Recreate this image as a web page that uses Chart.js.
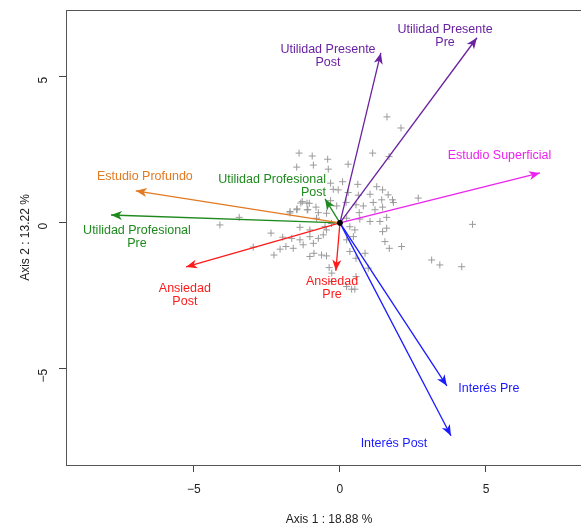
<!DOCTYPE html>
<html>
<head>
<meta charset="utf-8">
<script src="https://cdn.jsdelivr.net/npm/chart.js@4.4.0/dist/chart.umd.min.js"></script>
<style>
html, body { margin: 0; padding: 0; overflow: hidden; background: #fff; }
</style>
</head>
<body>
<canvas id="biplot" width="620" height="528"></canvas>
<script>
// variables (arrows): coordinates on axis 1 and axis 2
var varNames = [
    ["Utilidad Presente", "Post"],
    ["Utilidad Presente", "Pre"],
    ["Estudio Superficial"],
    ["Estudio Profundo"],
    ["Utilidad Profesional", "Pre"],
    ["Utilidad Profesional", "Post"],
    ["Ansiedad", "Post"],
    ["Ansiedad", "Pre"],
    ["Interés Pre"],
    ["Interés Post"]
];
var varX = [1.40, 4.69, 6.85, -6.99, -7.84, -0.51, -5.27, -0.14, 3.66, 3.80];
var varY = [5.82, 6.34, 1.71, 1.10, 0.27, 0.82, -1.51, -1.64, -5.58, -7.29];
var varColors = ["#6a22a0", "#6a22a0", "#ee22ee", "#e27a22", "#1e8a1e", "#1e8a1e", "#ff1a1a", "#ff1a1a", "#1a1aff", "#1a1aff"];

// where each variable label sits
var labelX = [-0.41, 3.60, 5.46, -6.68, -6.95, -0.48, -5.31, -0.27, 5.10, 1.85];
var labelY = [5.72, 6.40, 2.29, 1.58, -0.48, 1.27, -2.47, -2.23, -5.68, -7.57];

// individuals (scores)
var indX = [-1.40, -0.95, -0.42, 1.12, -1.48, -0.91, -0.40, 0.28, 1.68, 0.09,
    0.61, 1.26, 1.46, -0.32, -0.23, -0.06, 0.28, 0.63, 1.03, 1.65,
    1.80, 1.83, 2.68, -1.29, -1.05, -0.82, -0.32, -0.11, 0.21, 0.55,
    0.80, 1.14, 1.43, 1.20, 1.46, 0.66, -1.71, -1.48, -1.12, -0.74,
    -0.46, 0.23, 0.68, 1.03, 1.37, 1.60, 4.54, -3.45, -4.11, -1.37,
    -0.51, 0.34, 0.51, -2.36, -1.96, -1.65, -1.37, -1.03, -0.74, -0.57,
    0.23, 0.46, 1.46, 1.60, 1.54, -2.97, -2.05, -1.85, -1.60, -1.26,
    -0.91, 1.69, 2.11, -2.26, -1.03, -0.89, -0.63, -0.46, 0.34, 0.55,
    0.86, 3.14, 3.42, 4.17, -0.37, -0.28, 0.55, -0.28, 0.23, 0.40,
    0.51, 0.97, -0.46, -1.03, -0.80, -0.29, 1.61, 2.09, -1.34, -1.13,
    -1.71, -1.47, -1.10];
var indY = [2.39, 2.29, 2.18, 2.39, 1.91, 1.98, 1.84, 2.01, 2.27, 1.41,
    1.32, 1.24, 1.13, 1.36, 1.15, 1.13, 1.04, 0.95, 0.98, 0.96,
    0.79, 0.70, 0.85, 0.73, 0.67, 0.54, 0.76, 0.58, 0.70, 0.62,
    0.58, 0.70, 0.79, 0.45, 0.54, 0.35, 0.39, 0.45, 0.45, 0.35,
    0.33, 0.16, 0.13, 0.05, 0.05, 0.19, -0.05, 0.19, -0.07, -0.15,
    -0.13, -0.13, -0.24, -0.35, -0.49, -0.53, -0.58, -0.47, -0.53, -0.41,
    -0.58, -0.47, -0.30, -0.18, -0.64, -0.83, -0.90, -0.81, -0.87, -0.75,
    -0.70, -0.87, -0.81, -1.10, -1.15, -1.04, -1.10, -1.13, -0.98, -1.21,
    -1.04, -1.27, -1.44, -1.50, -1.53, -1.72, -1.84, -2.01, -2.18, -2.27,
    -2.27, -1.55, -0.24, -0.24, 0.16, -0.02, 3.63, 3.25, 0.68, 0.68,
    0.34, 0.48, 0.45];

var xTicks = [-5, 0, 5];
var yTicks = [-5, 0, 5];
var xTitle = "Axis 1 : 18.88 %";
var yTitle = "Axis 2 : 13.22 %";

var fontFamily = "'Liberation Sans', Arial, Helvetica, sans-serif";

var datasets = [];
datasets.push({
    data: [{ x: 0, y: 0 }],
    pointRadius: 2.5,
    pointBackgroundColor: "#000",
    pointBorderColor: "#000",
    order: 0
});
for (var i = 0; i < varNames.length; i++) {
    datasets.push({
        data: [{ x: 0, y: 0 }, { x: varX[i], y: varY[i] }],
        showLine: true,
        borderColor: varColors[i],
        borderWidth: 1.3,
        pointRadius: 0,
        order: 1
    });
}
var indPoints = [];
for (var j = 0; j < indX.length; j++) {
    indPoints.push({ x: indX[j], y: indY[j] });
}
datasets.push({
    data: indPoints,
    pointStyle: "cross",
    pointRadius: 3.5,
    pointBorderColor: "#9a9a9a",
    pointBorderWidth: 1,
    order: 3
});

var tickFix = function (list) {
    return function (scale) {
        scale.ticks = list.map(function (v) { return { value: v }; });
    };
};

var biplotDecor = {
    id: "biplotDecor",
    afterDatasetsDraw: function (chart) {
        var ctx = chart.ctx;
        var xs = chart.scales.x, ys = chart.scales.y;
        var a = chart.chartArea;
        ctx.save();
        // arrow heads
        for (var i = 0; i < varX.length; i++) {
            var x0 = xs.getPixelForValue(0), y0 = ys.getPixelForValue(0);
            var x1 = xs.getPixelForValue(varX[i]), y1 = ys.getPixelForValue(varY[i]);
            var ang = Math.atan2(y1 - y0, x1 - x0);
            var len = 11, half = 4.5, notch = 8;
            ctx.fillStyle = varColors[i];
            ctx.beginPath();
            ctx.moveTo(x1, y1);
            ctx.lineTo(x1 - len * Math.cos(ang) + half * Math.sin(ang), y1 - len * Math.sin(ang) - half * Math.cos(ang));
            ctx.lineTo(x1 - notch * Math.cos(ang), y1 - notch * Math.sin(ang));
            ctx.lineTo(x1 - len * Math.cos(ang) - half * Math.sin(ang), y1 - len * Math.sin(ang) + half * Math.cos(ang));
            ctx.closePath();
            ctx.fill();
        }
        // labels
        ctx.font = "12.5px " + fontFamily;
        ctx.textBaseline = "middle";
        for (var k = 0; k < varNames.length; k++) {
            var lines = varNames[k];
            var lx = xs.getPixelForValue(labelX[k]);
            var ly = ys.getPixelForValue(labelY[k]);
            var lh = 13.5;
            ctx.fillStyle = varColors[k];
            ctx.textAlign = (k === 5) ? "right" : "center";
            for (var m = 0; m < lines.length; m++) {
                ctx.fillText(lines[m], lx, ly + (m - (lines.length - 1) / 2) * lh);
            }
        }
        // box
        ctx.strokeStyle = "#555";
        ctx.lineWidth = 1;
        ctx.strokeRect(a.left + 0.5, a.top + 0.5, a.right - a.left, a.bottom - a.top);
        ctx.restore();
    }
};

new Chart(document.getElementById("biplot").getContext("2d"), {
    type: "scatter",
    data: { datasets: datasets },
    plugins: [biplotDecor],
    options: {
        responsive: false,
        animation: false,
        events: [],
        layout: { padding: { top: 10, right: 28, left: 0, bottom: 0 } },
        plugins: { legend: { display: false }, tooltip: { enabled: false } },
        scales: {
            x: {
                type: "linear",
                min: -9.38,
                max: 8.63,
                afterBuildTicks: tickFix(xTicks),
                afterFit: function (s) {
                    s.height = 63;
                    s.paddingLeft = 0;
                    s.paddingRight = 0;
                },
                border: { display: false },
                grid: { drawOnChartArea: false, drawTicks: true, tickLength: 7, color: "#444" },
                ticks: {
                    padding: 10,
                    color: "#222",
                    font: { size: 12, family: fontFamily },
                    callback: function (v) { return String(v).replace("-", "\u2212"); }
                },
                title: {
                    display: true,
                    text: xTitle,
                    color: "#222",
                    font: { size: 12, family: fontFamily },
                    padding: { top: 0, bottom: 1 }
                }
            },
            y: {
                type: "linear",
                min: -8.29,
                max: 7.29,
                afterBuildTicks: tickFix(yTicks),
                afterFit: function (s) {
                    s.width = 66;
                    s.paddingTop = 0;
                    s.paddingBottom = 0;
                },
                border: { display: false },
                grid: { drawOnChartArea: false, drawTicks: true, tickLength: 7, color: "#444" },
                ticks: {
                    padding: 15,
                    minRotation: 90,
                    maxRotation: 90,
                    color: "#222",
                    font: { size: 12, family: fontFamily },
                    callback: function (v) { return String(v).replace("-", "\u2212"); }
                },
                title: {
                    display: true,
                    text: yTitle,
                    color: "#222",
                    font: { size: 12, family: fontFamily },
                    padding: { top: 18, bottom: 0 }
                }
            }
        }
    }
});
</script>
</body>
</html>
